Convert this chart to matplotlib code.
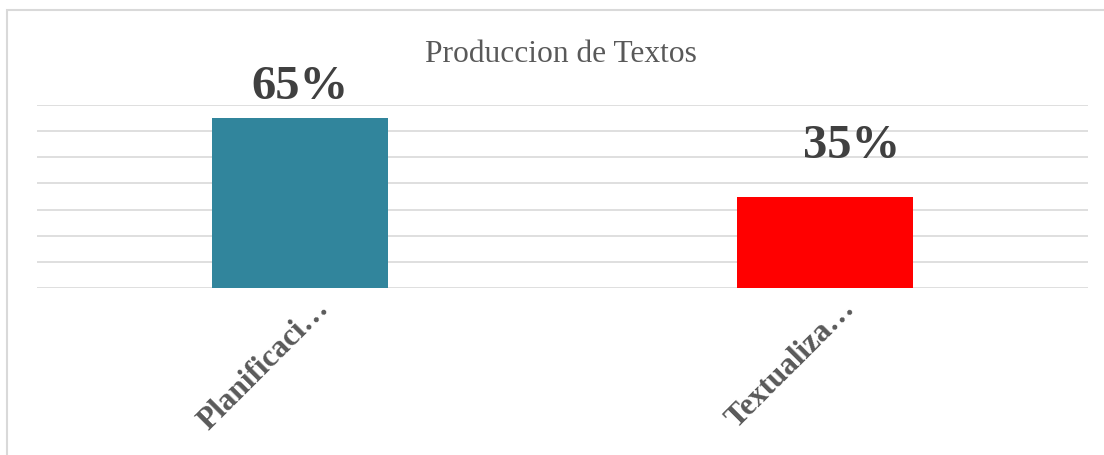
import matplotlib.pyplot as plt
from matplotlib.patches import Rectangle
from matplotlib.transforms import offset_copy

categories = ["Planificaci…", "Textualiza…"]
values = [0.65, 0.35]
value_labels = ["65%", "35%"]
bar_colors = ["#31859C", "#FF0000"]

W, H = 1104, 456
fig = plt.figure(figsize=(W / 100, H / 100), dpi=100)
fig.patch.set_facecolor("white")

# Rahmen des Diagrammbereichs (läuft rechts/unten aus dem Bild)
fig.patches.append(Rectangle((7 / W, -0.05), 1.1, (H - 11) / H + 0.05, transform=fig.transFigure,
                             fill=False, edgecolor="#D9D9D9", linewidth=1.5))

ax = fig.add_axes([37 / W, (H - 289) / H, (1088 - 37) / W, (289 - 106) / H])
x = list(range(len(categories)))
ax.bar(x, values, width=0.335, color=bar_colors, zorder=2)
ax.set_xlim(-0.5, 1.5)
ax.set_ylim(0, 0.7)
ax.set_yticks([i / 10 for i in range(8)])
ax.grid(axis="y", color="#D9D9D9", linewidth=1.2, zorder=0)
ax.tick_params(left=False, bottom=False, labelleft=False, labelbottom=False)
for s in ax.spines.values():
    s.set_visible(False)

serif = ["Liberation Serif", "DejaVu Serif"]

# Datenbeschriftungen (die 35% sitzt im Original verschoben über dem Balken)
label_shift = [(0.0, 0.037), (0.05, 0.112)]
for xi, v, txt, (dx, dy) in zip(x, values, value_labels, label_shift):
    ax.text(xi + dx, v + dy, txt, ha="center", va="bottom",
            fontsize=35, fontweight="bold", color="#404040", family=serif)

# Achsenbeschriftungen, 45° gedreht
tr = offset_copy(ax.get_xaxis_transform(), fig=fig, x=15, y=-5, units="dots")
for xi, cat in zip(x, categories):
    ax.text(xi, 0, cat, transform=tr, rotation=45, rotation_mode="anchor", ha="right", va="top",
            fontsize=22.5, fontweight="bold", color="#595959", family=serif)

fig.text(561 / W, 1 - 54 / H, "Produccion de Textos", ha="center", va="center",
         fontsize=22.7, color="#595959", family=serif)

fig.savefig("out.png", dpi=100)
